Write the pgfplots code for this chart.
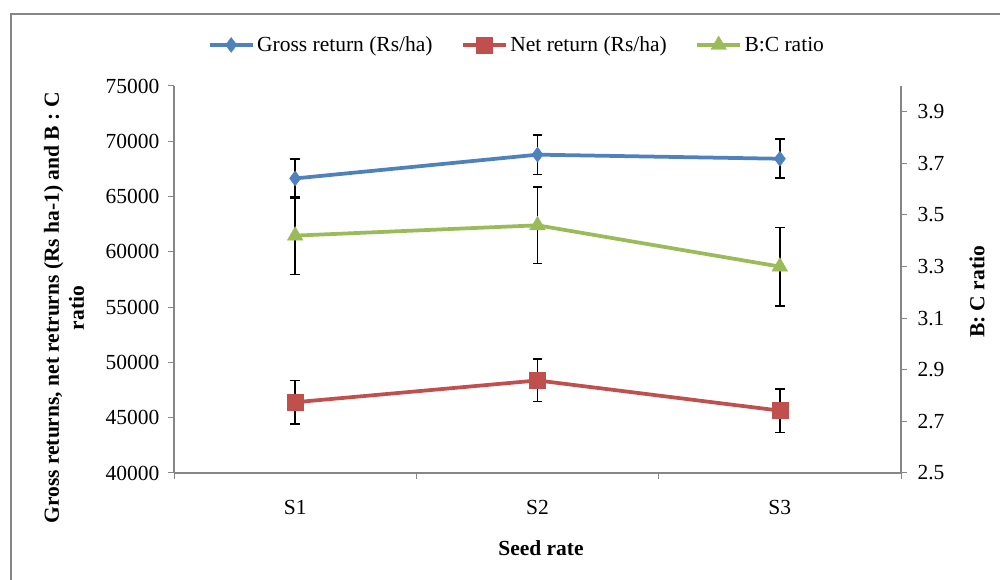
\documentclass[border=0pt]{standalone}
\usepackage{fontspec}
\setmainfont{Liberation Serif}
\usepackage{pgfplots}
\pgfplotsset{compat=1.18}

\definecolor{grossblue}{HTML}{4F81BD}
\definecolor{netred}{HTML}{C0504D}
\definecolor{bcgreen}{HTML}{9BBB59}
\definecolor{axisgray}{HTML}{868686}

\newcommand{\chartfont}{\fontsize{21.5}{25}\selectfont}

\pgfplotsset{
  common/.style={
    scale only axis,
    width=727pt, height=387pt,
    at={(174pt,107pt)}, anchor=south west,
    xmin=0.5, xmax=3.5,
    tick align=outside,
    major tick length=6pt, minor tick length=6pt,
    tick style={axisgray, line width=1pt},
    axis line style={axisgray, line width=1.2pt},
    /pgf/number format/assume math mode=true,
    tick label style={font=\chartfont, text=black},
    error bars/error bar style={black, line width=1.6pt},
    error bars/error mark options={rotate=90, black, line width=1.6pt, mark size=4.7pt},
    legend image code/.code={%
      \draw[mark repeat=2, mark phase=2, #1]
        plot coordinates {(0pt,0pt) (21.5pt,0pt) (43pt,0pt)};},
  },
  gross/.style={grossblue, line width=3.75pt, mark=diamond*, mark size=7.5pt,
    mark options={fill=grossblue, draw=grossblue, line width=0.4pt}},
  net/.style={netred, line width=3.75pt, mark=square*, mark size=8pt,
    mark options={fill=netred, draw=netred, line width=0.4pt}},
  bc/.style={bcgreen, line width=3.75pt, mark=triangle*, mark size=9pt,
    mark options={fill=bcgreen, draw=bcgreen, line width=0.4pt}},
}

\begin{document}
\begin{tikzpicture}[x=1pt, y=1pt]
  \useasboundingbox (0,0) rectangle (1000,580);
  \draw[axisgray, line width=2pt] (11,566) rectangle (1012,-12);

  % left axis: gross and net returns
  \begin{axis}[
    common,
    axis x line*=bottom, axis y line*=left,
    ymin=40000, ymax=75000,
    ytick={40000,45000,...,75000},
    scaled y ticks=false,
    yticklabel style={xshift=-5pt, /pgf/number format/.cd, fixed, set thousands separator={}},
    xtick={1,2,3}, xticklabels={S1,S2,S3},
    major x tick style={draw=none},
    minor xtick={0.5,1.5,2.5,3.5},
    xticklabel style={yshift=-18pt},
  ]
    \addplot[gross, error bars/.cd, y dir=both, y explicit]
      coordinates {(1,66640) +- (0,1760) (2,68790) +- (0,1780) (3,68420) +- (0,1760)};
    \addplot[net, error bars/.cd, y dir=both, y explicit]
      coordinates {(1,46400) +- (0,1970) (2,48370) +- (0,1920) (3,45640) +- (0,1960)};
  \end{axis}

  % right axis: B:C ratio
  \begin{axis}[
    common,
    axis x line=none, axis y line*=right,
    ymin=2.5, ymax=4.0,
    ytick={2.5,2.7,2.9,3.1,3.3,3.5,3.7,3.9},
    yticklabel style={xshift=7pt, /pgf/number format/.cd, fixed, fixed zerofill, precision=1},
    legend columns=3,
    legend cell align=left,
    legend style={at={(0.472,1.106)}, anchor=center, draw=none, fill=none,
      font=\chartfont, nodes={inner sep=2.5pt},
      /tikz/every even column/.append style={column sep=26pt}},
  ]
    \addlegendimage{gross}
    \addlegendentry{Gross return (Rs/ha)}
    \addlegendimage{net}
    \addlegendentry{Net return (Rs/ha)}
    \addplot[bc, error bars/.cd, y dir=both, y explicit]
      coordinates {(1,3.42) +- (0,0.150) (2,3.46) +- (0,0.148) (3,3.30) +- (0,0.152)};
    \addlegendentry{B:C ratio}
  \end{axis}

  \node[font=\bfseries\chartfont, rotate=90, align=center] at (64,272)
    {Gross returns, net retrurns (Rs ha-1) and B : C\\ratio};
  \node[font=\bfseries\chartfont] at (541,32) {Seed rate};
  \node[font=\bfseries\chartfont, rotate=90] at (977,288) {B: C ratio};
\end{tikzpicture}
\end{document}
